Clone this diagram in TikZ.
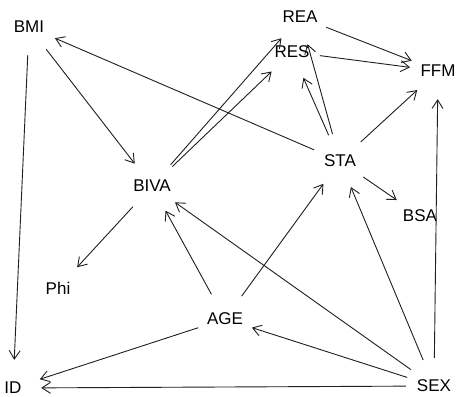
\documentclass[tikz,border=0pt]{standalone}
\usepackage{fontspec}
\setmainfont{Liberation Sans}
\usetikzlibrary{arrows.meta}
\begin{document}
\begin{tikzpicture}[x=1pt,y=-1pt,
  vnode/.style={circle,minimum size=56pt,inner sep=0pt,font=\fontsize{17}{19}\selectfont,text=black},
  edge/.style={draw=black!88,line width=0.9pt,-{Straight Barb[length=8.5pt,width=11pt,line width=0.9pt]}}]
\useasboundingbox[fill=white] (0,0) rectangle (457,396);
\node[vnode] (BMI) at (29,27) {BMI};
\node[vnode] (REA) at (300,17) {REA};
\node[vnode] (RES) at (292,52) {RES};
\node[vnode] (FFM) at (438,71) {FFM};
\node[vnode] (BIVA) at (152,186) {BIVA};
\node[vnode] (STA) at (340,161) {STA};
\node[vnode] (BSA) at (420,216) {BSA};
\node[vnode] (Phi) at (58,288) {Phi};
\node[vnode] (AGE) at (225,319) {AGE};
\node[vnode] (ID) at (13,388) {ID};
\node[vnode] (SEX) at (434,386) {SEX};
\draw[edge] (BMI) -- (BIVA);
\draw[edge] (BMI) -- (ID);
\draw[edge] (STA) -- (BMI);
\draw[edge] (BIVA) -- (REA);
\draw[edge] (BIVA) -- (RES);
\draw[edge] (BIVA) -- (Phi);
\draw[edge] (STA) -- (REA);
\draw[edge] (STA) -- (RES);
\draw[edge] (REA) -- (FFM);
\draw[edge] (RES) -- (FFM);
\draw[edge] (STA) -- (FFM);
\draw[edge] (STA) -- (BSA);
\draw[edge] (SEX) -- (FFM);
\draw[edge] (AGE) -- (BIVA);
\draw[edge] (AGE) -- (STA);
\draw[edge] (AGE) -- (ID);
\draw[edge] (SEX) -- (BIVA);
\draw[edge] (SEX) -- (STA);
\draw[edge] (SEX) -- (AGE);
\draw[edge] (SEX) -- (ID);
\end{tikzpicture}
\end{document}
